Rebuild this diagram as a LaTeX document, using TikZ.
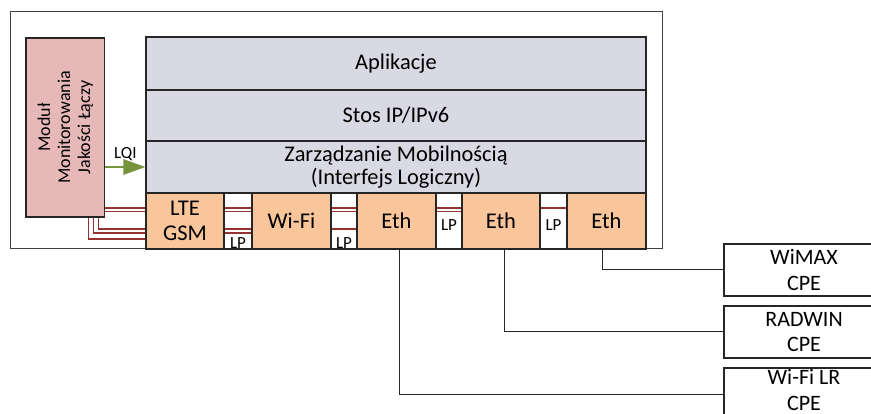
\documentclass[tikz,border=0pt]{standalone}
\usepackage{fontspec}
\setmainfont{Carlito}
\usetikzlibrary{arrows.meta,backgrounds}
\definecolor{layergray}{RGB}{217,217,227}
\definecolor{ifaceorange}{RGB}{249,198,156}
\definecolor{modpink}{RGB}{230,185,184}
\definecolor{linkred}{RGB}{150,50,45}
\definecolor{arrowgreen}{RGB}{119,147,60}
\begin{document}
\begin{tikzpicture}[x=1pt,y=-1pt,
  box/.style={draw=black!85, line width=1.1pt, inner sep=0pt, align=center},
  layer/.style={box, fill=layergray, minimum width=500pt, font=\fontsize{22.4}{23}\selectfont},
  iface/.style={box, fill=ifaceorange, minimum height=56pt, font=\fontsize{22.5}{25}\selectfont},
  gapbox/.style={box, minimum height=56pt},
  cpe/.style={box, fill=white, minimum width=160pt, minimum height=52pt, font=\fontsize{22}{25.5}\selectfont},
  lptext/.style={inner sep=0pt, font=\fontsize{17}{18}\selectfont},
  redline/.style={draw=linkred, line width=1.2pt},
  conn/.style={draw=black!85, line width=1pt},
]
\useasboundingbox (0,0) rectangle (871,414);
\clip (0,0) rectangle (871,414);

% outer frame
\node[box, draw=black!75, line width=1pt, minimum width=652pt, minimum height=237pt] (frame) at (336,130.5) {};

% monitoring module
\node[box, fill=modpink, minimum width=78.7pt, minimum height=179pt] (module) at (65.35,127.5) {};
\node[rotate=90, align=center, inner sep=0pt, font=\fontsize{18}{20}\selectfont] (modtext) at (module.center) {Moduł\\Monitorowania\\Jakości Łączy};

% protocol stack
\node[layer, minimum height=53pt] (app) at (396,63.5) {Aplikacje};
\node[layer, minimum height=51pt] (ip) at (396,115.5) {Stos IP/IPv6};
\node[layer, minimum height=52pt] (mob) at (396,167) {Zarządzanie Mobilnością\\(Interfejs Logiczny)};

% LQI arrow
\draw[-{Triangle[length=22pt,width=15pt]}, line width=2.7pt, draw=arrowgreen, fill=arrowgreen] (mob.west -| module.east) -- (mob.west);
\node[anchor=base, inner sep=0pt, font=\fontsize{17}{18}\selectfont] (lqi) at (125.3,158.3) {LQI};

% interfaces
\node[iface, minimum width=78pt] (lte) at (185,221) {LTE\\GSM};
\node[gapbox, minimum width=28pt] (g0) at (238,221) {};
\node[iface, minimum width=79pt] (wifi) at (291.5,221) {Wi-Fi};
\node[gapbox, minimum width=26pt] (g1) at (344,221) {};
\node[iface, minimum width=79pt] (eth1) at (396.5,221) {Eth};
\node[gapbox, minimum width=26pt] (g2) at (449,221) {};
\node[iface, minimum width=78pt] (eth2) at (501,221) {Eth};
\node[gapbox, minimum width=27pt] (g3) at (553.5,221) {};
\node[iface, minimum width=79pt] (eth3) at (606.5,221) {Eth};

% LP labels
\node[lptext, anchor=base] (lp0) at ([yshift=1pt]g0.south) {LP};
\node[lptext, anchor=base] (lp1) at ([yshift=1pt]g1.south) {LP};
\node[lptext] (lp2) at ([yshift=-4.5pt]g2.center) {LP};
\node[lptext] (lp3) at ([yshift=-4pt]g3.center) {LP};

% CPE devices
\node[cpe] (wimax) at (804,270) {WiMAX\\CPE};
\node[cpe] (radwin) at (804,332) {RADWIN\\CPE};
\node[cpe, text depth=8pt] (wifilr) at (804,394) {Wi-Fi LR\\CPE};

\draw[conn] ([xshift=2.5pt]eth1.south) |- (wifilr.west);
\draw[conn] ([xshift=3pt]eth2.south) |- (radwin.west);
\draw[conn] ([xshift=-4pt]eth3.south) |- (wimax.west);

% link-quality lines (behind the interface boxes)
\coordinate (r1) at (104.7,208);
\coordinate (r2) at (104.7,211.5);
\coordinate (m3) at (98.7,217);
\coordinate (b3) at (98.7,229);
\coordinate (m4) at (93.7,217);
\coordinate (b4) at (93.7,233);
\coordinate (m5) at (88.7,217);
\coordinate (b5) at (88.7,239);
\begin{pgfonlayer}{background}
\fill[white] (0,0) rectangle (871,414);
\draw[redline] (r1) -- (r1 -| eth3.west);
\draw[redline] (r2) -- (r2 -| eth2.west);
\draw[redline] (m3) -- (b3) -- (b3 -| eth1.west);
\draw[redline] (m4) -- (b4) -- (b4 -| wifi.west);
\draw[redline] (m5) -- (b5) -- (b5 -| lte.west);
\end{pgfonlayer}
\end{tikzpicture}
\end{document}
